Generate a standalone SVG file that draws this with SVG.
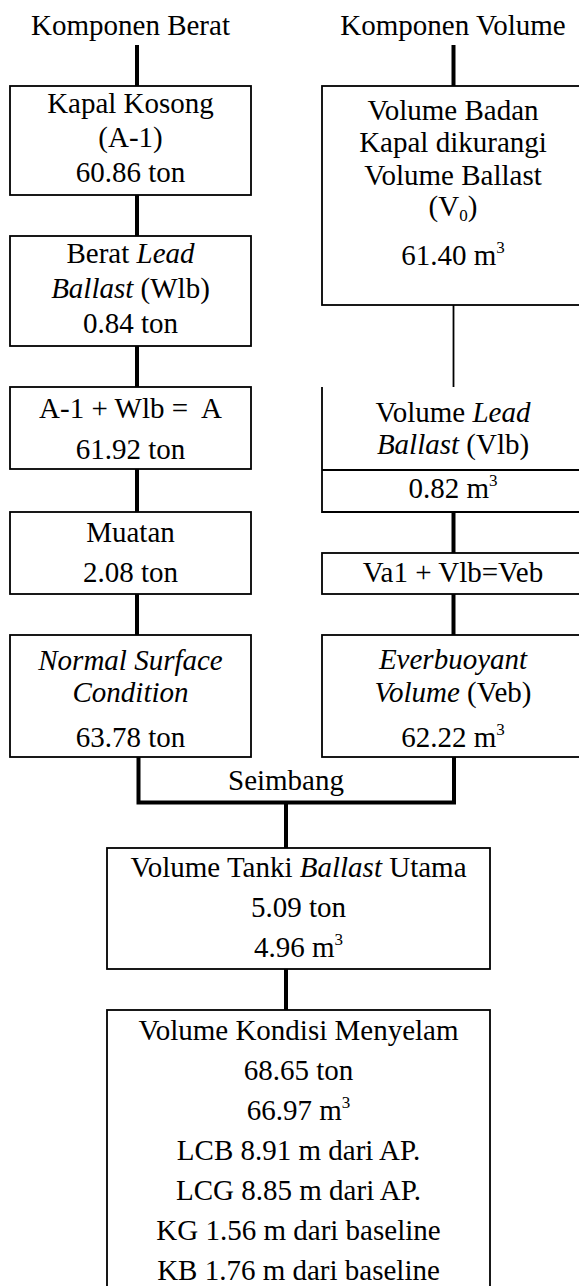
<svg xmlns="http://www.w3.org/2000/svg" width="579" height="1286" viewBox="0 0 579 1286">
<style>
text{font-family:"Liberation Serif","Times New Roman",serif;font-size:29px;fill:#000;text-anchor:middle}
.i{font-style:italic}
.sup{font-size:17px}
.box{fill:#fff;stroke:#000;stroke-width:1.8}
.thick{stroke:#000;stroke-width:4;fill:none}
.thin{stroke:#000;stroke-width:1.8;fill:none}
</style>
<rect width="579" height="1286" fill="#fff"/>
<g id="connectors">
<line class="thick" x1="137" y1="45" x2="137" y2="86"/>
<line class="thick" x1="137" y1="195" x2="137" y2="236"/>
<line class="thick" x1="137" y1="346" x2="137" y2="387"/>
<line class="thick" x1="137" y1="469" x2="137" y2="512"/>
<line class="thick" x1="137" y1="594" x2="137" y2="635"/>
<line class="thick" x1="453.5" y1="45" x2="453.5" y2="86"/>
<line class="thin" x1="453.5" y1="305" x2="453.5" y2="387"/>
<line class="thick" x1="453.5" y1="512" x2="453.5" y2="553"/>
<line class="thick" x1="453.5" y1="594" x2="453.5" y2="635"/>
<path class="thick" d="M138.5,757 V802.5 H454 V757"/>
<line class="thick" x1="286" y1="802.5" x2="286" y2="848"/>
<line class="thick" x1="286" y1="969" x2="286" y2="1010"/>
<text x="286" y="790">Seimbang</text>
</g>
<g id="title-berat"><text x="130.5" y="35">Komponen Berat</text></g>
<g id="title-volume"><text x="453" y="35">Komponen Volume</text></g>
<g id="kapal-kosong">
<rect class="box" x="10" y="86" width="241" height="109"/>
<text x="130.5" y="113">Kapal Kosong</text>
<text x="130.5" y="147">(A-1)</text>
<text x="130.5" y="182">60.86 ton</text>
</g>
<g id="berat-lead">
<rect class="box" x="10" y="236" width="241" height="110"/>
<text x="130.5" y="263">Berat <tspan class="i">Lead</tspan></text>
<text x="130.5" y="297.5"><tspan class="i">Ballast</tspan> (Wlb)</text>
<text x="130.5" y="333">0.84 ton</text>
</g>
<g id="a-total">
<rect class="box" x="10" y="387" width="241" height="82"/>
<text x="130.5" y="418" xml:space="preserve">A-1 + Wlb =  A</text>
<text x="130.5" y="459">61.92 ton</text>
</g>
<g id="muatan">
<rect class="box" x="10" y="512" width="241" height="82"/>
<text x="130.5" y="541.5">Muatan</text>
<text x="130.5" y="582">2.08 ton</text>
</g>
<g id="normal-surface">
<rect class="box" x="10" y="635" width="241" height="122"/>
<text x="130.5" y="670" class="i">Normal Surface</text>
<text x="130.5" y="701.5" class="i">Condition</text>
<text x="130.5" y="746.5">63.78 ton</text>
</g>
<g id="volume-badan">
<rect class="box" x="322" y="86" width="270" height="219"/>
<text x="453" y="120">Volume Badan</text>
<text x="453" y="152">Kapal dikurangi</text>
<text x="453" y="185">Volume Ballast</text>
<text x="453" y="216">(V<tspan class="sup" dy="5">0</tspan><tspan dy="-5">)</tspan></text>
<text x="453" y="265">61.40 m<tspan class="sup" dy="-12">3</tspan></text>
</g>
<g id="volume-lead">
<rect x="322" y="387" width="270" height="125" fill="#fff"/>
<path class="thin" d="M322,387 V512 H592 M322,470 H592"/>
<text x="453" y="421.5">Volume <tspan class="i">Lead</tspan></text>
<text x="453" y="454"><tspan class="i">Ballast</tspan> (Vlb)</text>
<text x="453" y="497.5">0.82 m<tspan class="sup" dy="-12">3</tspan></text>
</g>
<g id="veb-sum">
<rect class="box" x="322" y="553" width="270" height="41"/>
<text x="453" y="582">Va1 + Vlb=Veb</text>
</g>
<g id="everbuoyant">
<rect class="box" x="322" y="635" width="270" height="122"/>
<text x="453" y="669" class="i">Everbuoyant</text>
<text x="453" y="701.5"><tspan class="i">Volume</tspan> (Veb)</text>
<text x="453" y="746.5">62.22 m<tspan class="sup" dy="-12">3</tspan></text>
</g>
<g id="tanki-ballast">
<rect class="box" x="107" y="848" width="383" height="121"/>
<text x="298.5" y="877">Volume Tanki <tspan class="i">Ballast</tspan> Utama</text>
<text x="298.5" y="917">5.09 ton</text>
<text x="298.5" y="957">4.96 m<tspan class="sup" dy="-12">3</tspan></text>
</g>
<g id="kondisi-menyelam">
<rect class="box" x="107" y="1010" width="383" height="290"/>
<text x="298.5" y="1040">Volume Kondisi Menyelam</text>
<text x="298.5" y="1080">68.65 ton</text>
<text x="298.5" y="1120">66.97 m<tspan class="sup" dy="-12">3</tspan></text>
<text x="298.5" y="1160">LCB 8.91 m dari AP.</text>
<text x="298.5" y="1200">LCG 8.85 m dari AP.</text>
<text x="298.5" y="1240">KG 1.56 m dari baseline</text>
<text x="298.5" y="1280">KB 1.76 m dari baseline</text>
</g>
</svg>
